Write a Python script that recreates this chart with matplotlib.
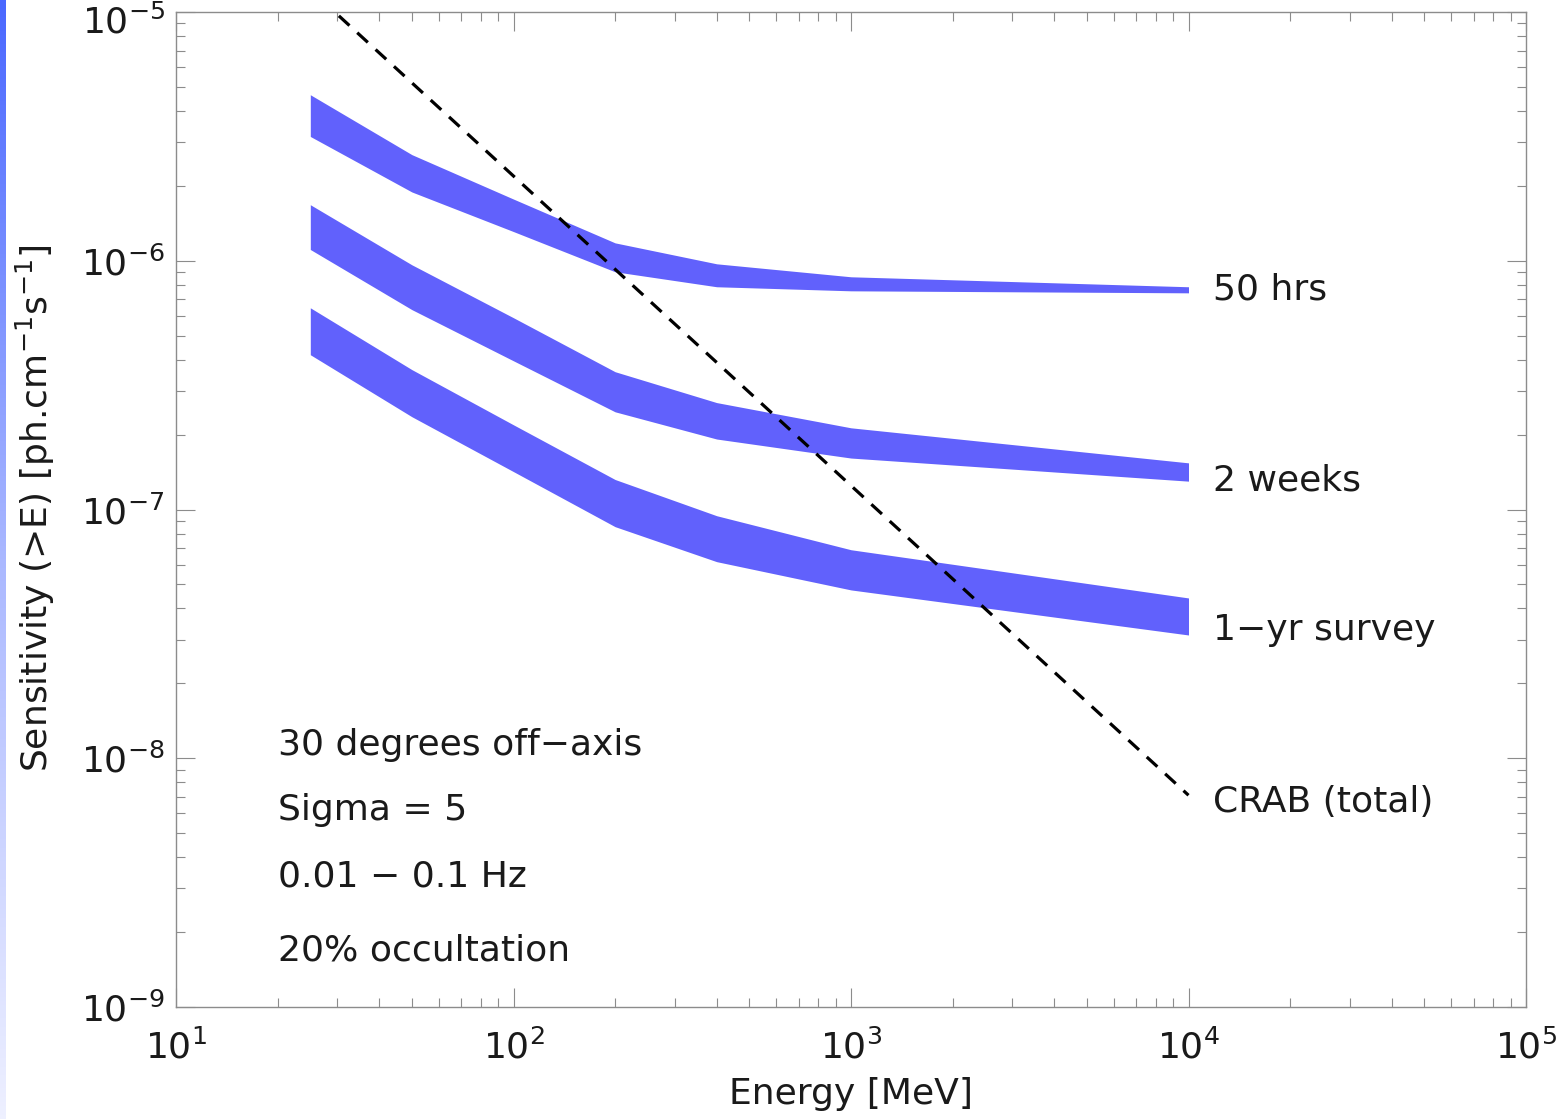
import matplotlib.pyplot as plt
import numpy as np
from matplotlib.ticker import LogLocator, NullFormatter, FuncFormatter
from matplotlib.colors import LinearSegmentedColormap

# band knots (MeV) and sensitivity limits
energy = [25, 50, 100, 200, 400, 1000, 10000]
hrs50_hi = [4.65e-6, 2.67e-6, 1.77e-6, 1.18e-6, 9.72e-7, 8.62e-7, 7.86e-7]
hrs50_lo = [3.16e-6, 1.89e-6, 1.31e-6, 9.03e-7, 7.86e-7, 7.57e-7, 7.43e-7]
weeks2_hi = [1.68e-6, 9.63e-7, 5.90e-7, 3.58e-7, 2.69e-7, 2.13e-7, 1.54e-7]
weeks2_lo = [1.11e-6, 6.36e-7, 3.96e-7, 2.47e-7, 1.92e-7, 1.61e-7, 1.30e-7]
yr1_hi = [6.47e-7, 3.65e-7, 2.19e-7, 1.32e-7, 9.44e-8, 6.89e-8, 4.41e-8]
yr1_lo = [4.19e-7, 2.36e-7, 1.42e-7, 8.53e-8, 6.17e-8, 4.75e-8, 3.13e-8]

crab_energy = [25, 10000]
crab_flux = [1.23e-5, 7.1e-9]

band_labels = ["50 hrs", "2 weeks", "1\u2212yr survey", "CRAB (total)"]
label_y = [6.97e-7, 1.19e-7, 2.99e-8, 6.08e-9]
notes = ["30 degrees off\u2212axis", "Sigma = 5", "0.01 \u2212 0.1 Hz", "20% occultation"]
y_ticks = [1e-9, 1e-8, 1e-7, 1e-6, 1e-5]

band_color = "#6161fc"
grey = "#8c8c8c"
ink = "#1a1a1a"
fs = 26


def pow10(v, pos=None):
    return "$\\mathdefault{10^{%d}}$" % int(round(np.log10(v)))


fig = plt.figure(figsize=(15.59, 11.19), dpi=100)

# blue slide edge on the left
strip = fig.add_axes([0, 0, 6 / 1559, 1])
grad = np.linspace(0, 1, 256).reshape(-1, 1)
cm = LinearSegmentedColormap.from_list("edge", ["#4a68ff", "#aab8ff", "#eef0ff"])
strip.imshow(grad, aspect="auto", cmap=cm, extent=[0, 1, 0, 1])
strip.axis("off")

ax = fig.add_axes([176 / 1559, 1 - 1007 / 1119, 1350 / 1559, 995 / 1119])

for lo, hi in [(hrs50_lo, hrs50_hi), (weeks2_lo, weeks2_hi), (yr1_lo, yr1_hi)]:
    ax.fill_between(energy, lo, hi, color=band_color, lw=0)

ax.plot(crab_energy, crab_flux, color="black", lw=2.3, dashes=(4.5, 3.3))

ax.set_xscale("log")
ax.set_yscale("log")
ax.set_xlim(10, 1e5)
ax.set_ylim(1e-9, 1e-5)

for lab, y in zip(band_labels, label_y):
    ax.text(1.18e4, y, lab, fontsize=fs, va="baseline", ha="left", color=ink)

note_y = [0.263, 0.198, 0.131, 0.057]
for t, y in zip(notes, note_y):
    ax.text(0.0756, y, t, transform=ax.transAxes, fontsize=fs, va="center",
            ha="left", color=ink)

for s in ax.spines.values():
    s.set_color(grey)
    s.set_linewidth(1.0)

for axis in (ax.xaxis, ax.yaxis):
    axis.set_major_locator(LogLocator(base=10, numticks=10))
    axis.set_minor_locator(LogLocator(base=10, subs=np.arange(2, 10), numticks=20))
    axis.set_minor_formatter(NullFormatter())

ax.set_yticks(y_ticks)
# top label sits a little lower in the original, drawn separately below
ax.yaxis.set_major_formatter(FuncFormatter(lambda v, p: "" if v > 5e-6 else pow10(v)))
ax.xaxis.set_major_formatter(FuncFormatter(pow10))

ax.tick_params(which="both", direction="in", top=True, right=True, color=grey,
               width=0.8, labelsize=fs, labelcolor=ink)
ax.tick_params(which="major", length=13.5)
ax.tick_params(which="minor", length=6.5)
ax.tick_params(axis="x", which="major", pad=16)
ax.tick_params(axis="y", which="major", pad=8)

fig.text(165 / 1559, 1 - 22 / 1119, pow10(y_ticks[-1]), fontsize=fs, ha="right",
         va="center", color=ink)

fig.text(851 / 1559, 1 - 1094 / 1119, "Energy [MeV]", fontsize=fs, ha="center",
         va="center", color=ink)
fig.text(35 / 1559, 1 - 508 / 1119, "Sensitivity (>E) [ph.cm$^{-1}$s$^{-1}$]",
         fontsize=fs, rotation=90, ha="center", va="center", color=ink)

fig.savefig("out.png", dpi=100)
